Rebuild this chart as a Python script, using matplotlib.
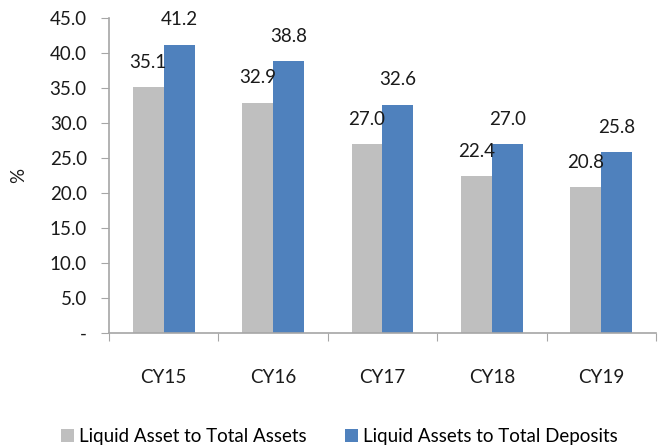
import numpy as np
import matplotlib.pyplot as plt
from matplotlib.ticker import FixedLocator, FuncFormatter

plt.rcParams['font.family'] = ['Lato', 'DejaVu Sans']

years = ['CY15', 'CY16', 'CY17', 'CY18', 'CY19']
assets_ratio = [35.1, 32.9, 27.0, 22.4, 20.8]
deposits_ratio = [41.2, 38.8, 32.6, 27.0, 25.8]
series_names = ['Liquid Asset to Total Assets', 'Liquid Assets to Total Deposits']

grey = '#BFBFBF'
blue = '#4F81BD'
axis_grey = '#A6A6A6'
fs = 13.5

fig = plt.figure(figsize=(6.59, 4.47), dpi=100)
ax = fig.add_axes([0.1654, 0.255, 0.83, 0.7047])

x = np.arange(len(years))
w = 0.283
b1 = ax.bar(x - w / 2, assets_ratio, w, color=grey, label=series_names[0])
b2 = ax.bar(x + w / 2, deposits_ratio, w, color=blue, label=series_names[1])

for bars, vals in ((b1, assets_ratio), (b2, deposits_ratio)):
    for b, v in zip(bars, vals):
        ax.annotate(f'{v:.1f}', (b.get_x() + b.get_width() / 2, v),
                    xytext=(0, 18), textcoords='offset points',
                    ha='center', va='center', fontsize=fs, color='#1a1a1a')

ax.set_xlim(-0.5, len(years) - 0.5)
ax.set_ylim(0, 45)
ax.set_yticks(np.arange(0, 46, 5))
ax.yaxis.set_major_formatter(FuncFormatter(lambda v, p: '-' if v == 0 else f'{v:.1f}'))

# category boundaries as major ticks, labels on minor ticks
ax.xaxis.set_major_locator(FixedLocator(np.arange(-0.5, len(years), 1)))
ax.xaxis.set_major_formatter(FuncFormatter(lambda v, p: ''))
ax.xaxis.set_minor_locator(FixedLocator(x))
ax.set_xticklabels(years, minor=True)
ax.tick_params(axis='x', which='major', length=6, color=axis_grey, direction='out')
ax.tick_params(axis='x', which='minor', length=0, pad=26, labelsize=fs, labelcolor='#1a1a1a')
ax.tick_params(axis='y', length=6, color=axis_grey, pad=10, labelsize=fs, labelcolor='#1a1a1a')

for s in ('top', 'right'):
    ax.spines[s].set_visible(False)
for s in ('left', 'bottom'):
    ax.spines[s].set_color(axis_grey)
    ax.spines[s].set_linewidth(1.2)

ax.set_ylabel('%', fontsize=fs, color='#1a1a1a', labelpad=16)

fig.legend(handles=[b1, b2], labels=series_names, loc='center', ncol=2,
           bbox_to_anchor=(0.515, 0.023), frameon=False, fontsize=fs,
           handlelength=0.7, handleheight=0.7, handletextpad=0.3, columnspacing=2.0)

fig.savefig('out.png', dpi=100)
